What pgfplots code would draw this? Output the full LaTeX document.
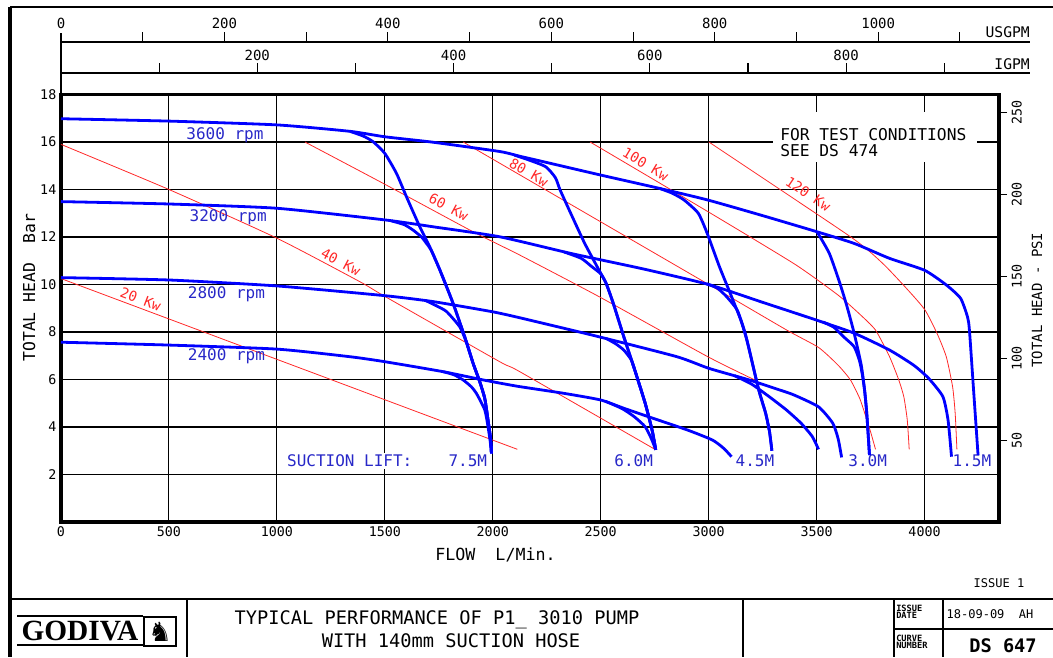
\documentclass[border=0pt]{standalone}
\usepackage{fontspec}
\setmainfont{DejaVu Sans Mono}
\newfontfamily\godfont{Liberation Serif}
\newfontfamily\symfont{DejaVu Sans}
\usepackage{pgfplots}
\pgfplotsset{compat=1.18}
\definecolor{curveblue}{RGB}{0,0,255}
\definecolor{txtblue}{RGB}{40,40,200}
\definecolor{kwred}{RGB}{255,40,40}
\newcommand{\fs}[1]{\fontsize{#1}{#1}\selectfont}

\begin{document}
\begin{tikzpicture}
\path[use as bounding box] (0,0) rectangle (789.75pt,-492.75pt);

% main axis: flow L/min vs head bar
\begin{axis}[
  at={(45.75pt,-391.5pt)}, anchor=south west,
  scale only axis, width=703.5pt, height=320.625pt,
  xmin=0, xmax=4345, ymin=0, ymax=18,
  xtick={0,500,...,4000}, ytick={2,4,...,18},
  xticklabels={0,500,1000,1500,2000,2500,3000,3500,4000},
  yticklabels={2,4,6,8,10,12,14,16,18},
  major tick length=0pt,
  grid=major, major grid style={black, line width=0.8pt},
  axis line style={line width=2.6pt},
  tick label style={font=\fs{10pt}},
  clip=false,
  bl/.style={curveblue, line width=2.1pt, smooth, tension=0.35, line join=round},
  rd/.style={kwred, line width=0.6pt, smooth, tension=0.35},
]
% power lines
\addplot[rd] coordinates {(0,10.25) (2114,3.06)};
\addplot[rd] coordinates {(0,15.9) (500,14.0) (1000,11.95) (1384,10.12) (1500,9.5) (2032,6.75) (2125,6.33) (2755,3.04)};
\addplot[rd] coordinates {(1130,16) (1492,14.26) (1909,12.22) (2125,11.24) (2492,9.49) (2996,6.96) (3214,5.98)};
\addplot[rd] coordinates {(1863,16) (3000,10.0) (3362,8.08) (3509,7.35) (3600,6.6) (3657,5.98) (3700,5.2) (3723,4.58) (3750,3.8) (3773,3.06)};
\addplot[rd] coordinates {(2451,16) (3000,13.05) (3400,10.85) (3600,9.55) (3700,8.75) (3773,8.08) (3838,6.96) (3880,6.0) (3904,5.28) (3920,4.3) (3929,3.06)};
\addplot[rd] coordinates {(3001,16) (3657,12.01) (3806,10.89) (3920,9.8) (4002,8.93) (4060,7.9) (4101,6.95) (4130,5.7) (4142,4.58) (4150,3.06)};

\begin{scope}[kwred, font=\fs{10.5pt}]
\node[rotate=-21] at (axis cs:369,9.39) {20 Kw};
\node[rotate=-28] at (axis cs:1296,10.95) {40 Kw};
\node[rotate=-28] at (axis cs:1796,13.28) {60 Kw};
\node[rotate=-30] at (axis cs:2167,14.72) {80 Kw};
\node[rotate=-31] at (axis cs:2708,15.07) {100 Kw};
\node[rotate=-34] at (axis cs:3461,13.81) {120 Kw};
\end{scope}

% note box
\fill[white] (axis cs:3298,15.16) rectangle (axis cs:4243,17.26);
\node[anchor=base west, font=\fs{12.2pt}] at (axis cs:3310,16.08) {FOR TEST CONDITIONS};
\node[anchor=base west, font=\fs{12.2pt}] at (axis cs:3310,15.37) {SEE DS 474};

% suction lift labels
\begin{scope}[txtblue, font=\fs{12pt}]
\node[anchor=base west, fill=white, inner sep=1.5pt] at (axis cs:1037,2.32) {SUCTION LIFT:};
\node[anchor=base west, fill=white, inner sep=1pt] at (axis cs:1788,2.32) {7.5M};
\node[anchor=base west, fill=white, inner sep=1pt] at (axis cs:2556,2.32) {6.0M};
\node[anchor=base west, fill=white, inner sep=1pt] at (axis cs:3118,2.32) {4.5M};
\node[anchor=base west, fill=white, inner sep=1pt] at (axis cs:3640,2.32) {3.0M};
\node[anchor=base west, fill=white, inner sep=1pt] at (axis cs:4123,2.32) {1.5M};
\node[anchor=base west] at (axis cs:559,16.11) {3600 rpm};
\node[anchor=base west] at (axis cs:574,12.64) {3200 rpm};
\node[anchor=base west] at (axis cs:566,9.39) {2800 rpm};
\node[anchor=base west] at (axis cs:566,6.79) {2400 rpm};
\end{scope}

% 3600 rpm
\addplot[bl] coordinates {(0,16.98) (500,16.88) (1000,16.72) (1338,16.45) (1500,16.22) (1724,15.99) (2032,15.6) (2125,15.4) (2197,15.25) (2499,14.61) (2771,14.05) (2995,13.56) (3250,12.9) (3502,12.22) (3674,11.73) (3838,11.1) (4000,10.6) (4101,9.98) (4167,9.42) (4199,8.64) (4208,8.08) (4228,5.45) (4248,2.82)};
\addplot[bl] coordinates {(1338,16.45) (1400,16.25) (1446,16.01) (1500,15.52) (1554,14.68) (1600,13.7) (1662,12.43) (1708,11.59) (1755,10.61) (1816,9.21) (1870,7.8) (1909,6.68) (1940,5.9) (1963,5.2) (1978,4.29) (1990,3.5) (1994,2.89)};
\addplot[bl] coordinates {(2100,15.45) (2165,15.25) (2245,14.96) (2290,14.5) (2312,13.98) (2361,13.0) (2426,11.73) (2492,10.61) (2525,10.05) (2558,9.21) (2607,7.8) (2656,6.45) (2706,5.0) (2738,3.87) (2755,3.04)};
\addplot[bl] coordinates {(2771,14.05) (2830,13.85) (2886,13.56) (2952,13.0) (2993,12.16) (3050,10.75) (3100,9.63) (3149,8.5) (3181,7.52) (3231,5.6) (3264,4.58) (3282,3.8) (3293,3.0)};
\addplot[bl] coordinates {(3502,12.22) (3559,11.31) (3608,10.05) (3641,9.07) (3674,7.95) (3707,6.6) (3723,5.5) (3733,4.5) (3745,2.82)};
% 3200 rpm
\addplot[bl] coordinates {(0,13.49) (500,13.39) (1000,13.21) (1500,12.72) (1724,12.43) (2032,12.01) (2361,11.31) (2700,10.65) (3000,10.0) (3250,9.25) (3500,8.5) (3674,7.95) (3838,7.24) (3950,6.6) (4019,6.05) (4085,5.28) (4109,4.29) (4125,2.75)};
\addplot[bl] coordinates {(1530,12.68) (1590,12.52) (1631,12.29) (1670,12.0) (1693,11.73) (1715,11.44) (1755,10.61) (1816,9.21) (1870,7.8) (1909,6.68) (1940,5.9) (1963,5.2) (1978,4.29) (1990,3.5) (1994,2.89)};
\addplot[bl] coordinates {(2330,11.37) (2410,11.1) (2459,10.75) (2500,10.45) (2525,10.05) (2558,9.21) (2607,7.8) (2656,6.45) (2706,5.0) (2738,3.87) (2755,3.04)};
\addplot[bl] coordinates {(2990,10.03) (3040,9.85) (3083,9.49) (3132,8.93) (3165,8.08) (3181,7.52) (3231,5.6) (3264,4.58) (3282,3.8) (3293,3.0)};
\addplot[bl] coordinates {(3530,8.42) (3580,8.2) (3625,7.8) (3674,7.38) (3699,6.78) (3712,6.2) (3723,5.5) (3733,4.5) (3745,2.82)};
% 2800 rpm
\addplot[bl] coordinates {(0,10.29) (500,10.19) (1000,9.94) (1500,9.53) (1724,9.28) (1994,8.86) (2125,8.6) (2492,7.8) (2853,6.96) (3001,6.47) (3181,6.0) (3329,5.56) (3395,5.35) (3509,4.85) (3575,4.16) (3600,3.5) (3616,2.72)};
\addplot[bl] coordinates {(1690,9.32) (1740,9.1) (1786,8.86) (1847,8.22) (1878,7.57) (1909,6.68) (1940,5.9) (1963,5.2) (1978,4.29) (1990,3.5) (1994,2.89)};
\addplot[bl] coordinates {(2525,7.73) (2570,7.5) (2607,7.24) (2640,6.85) (2656,6.45) (2706,5.0) (2738,3.87) (2755,3.04)};
\addplot[bl] coordinates {(3120,6.16) (3200,5.8) (3280,5.28) (3360,4.72) (3428,4.16) (3480,3.6) (3509,3.06)};
% 2400 rpm
\addplot[bl] coordinates {(0,7.57) (500,7.45) (1000,7.28) (1338,6.96) (1500,6.75) (1770,6.33) (1940,6.01) (2032,5.85) (2125,5.7) (2328,5.42) (2499,5.14) (2607,4.79) (2722,4.43) (2903,3.87) (3018,3.45) (3070,3.1) (3106,2.75)};
\addplot[bl] coordinates {(1770,6.33) (1820,6.2) (1863,5.98) (1900,5.7) (1924,5.42) (1963,4.72) (1978,4.01) (1988,3.4) (1994,2.89)};
\addplot[bl] coordinates {(2523,5.08) (2600,4.77) (2656,4.43) (2706,4.01) (2735,3.5) (2755,3.04)};
\end{axis}

% PSI scale on the right
\begin{axis}[
  at={(45.75pt,-391.5pt)}, anchor=south west,
  scale only axis, width=703.5pt, height=320.625pt,
  xmin=0, xmax=1, ymin=0, ymax=261.07,
  hide x axis, axis y line*=right,
  ytick={50,100,150,200,250},
  yticklabels={50,100,150,200,250},
  tick align=outside, major tick length=6pt,
  tick style={black, line width=0.8pt},
  axis line style={line width=2.6pt},
  yticklabel style={rotate=90, anchor=north, font=\fs{10pt}},
]
\end{axis}

\begin{scope}[x=0.75pt, y=-0.75pt]
% frame
\draw[line width=1.2pt] (10,7) -- (1053,7);
\draw[line width=3.2pt] (10,7) -- (10,657);
% top flow scales
\draw[line width=0.8pt] (61,42) -- (1030,42);
\draw[line width=0.8pt] (61,73) -- (1030,73);
\draw[line width=0.8pt] (61,33) -- (61,95);
\foreach \n in {1,...,11} \draw[line width=0.8pt] ({61+\n*81.72},42) -- ({61+\n*81.72},32);
\foreach \n in {1,...,9} \draw[line width=0.8pt] ({61+\n*98.14},73) -- ({61+\n*98.14},63);
\foreach \n/\t in {0/0,2/200,4/400,6/600,8/800,10/1000}
  \node[anchor=base, font=\fs{10.5pt}, inner sep=0pt] at ({61+\n*81.72},28) {\t};
\foreach \n/\t in {2/200,4/400,6/600,8/800}
  \node[anchor=base, font=\fs{10.5pt}, inner sep=0pt] at ({61+\n*98.14},60) {\t};
\node[anchor=base east, font=\fs{11pt}, inner sep=0pt] at (1030,37) {USGPM};
\node[anchor=base east, font=\fs{11pt}, inner sep=0pt] at (1030,69) {IGPM};
% axis titles
\node[anchor=base, rotate=90, font=\fs{12.3pt}, inner sep=0pt] at (35,287.5) {TOTAL HEAD~~Bar};
\node[anchor=base, rotate=90, font=\fs{10.5pt}, inner sep=0pt] at (1042,300) {TOTAL HEAD - PSI};
\node[anchor=base west, font=\fs{12.5pt}, inner sep=0pt] at (435,560) {FLOW~~L/Min.};
% title block
\node[font=\fs{9pt}] at (999,583) {ISSUE 1};
\draw[line width=2.2pt] (10,599) -- (1053,599);
\draw[line width=1.6pt] (187,599) -- (187,657);
\draw[line width=1.6pt] (743,599) -- (743,657);
\draw[line width=1.6pt] (894,599) -- (894,657);
\draw[line width=1.2pt] (943,599) -- (943,657);
\draw[line width=1.6pt] (894,629) -- (1053,629);
\draw[line width=1.5pt] (17,616) -- (143,616);
\draw[line width=1.5pt] (17,645) -- (143,645);
\node[font=\godfont\bfseries\fs{22pt}, inner sep=0pt] at (80,631) {GODIVA};
\draw[line width=0.8pt] (144,617) rectangle (176,646);
\node[font=\symfont\fs{20pt}, inner sep=0pt] at (160,631.5) {♞};
\node[font=\fs{14pt}] at (437,620) {TYPICAL PERFORMANCE OF P1\_ 3010 PUMP};
\node[font=\fs{14pt}] at (451,641) {WITH 140mm SUCTION HOSE};
\node[font=\fs{6.5pt}\bfseries, align=left, inner sep=0pt, anchor=west] at (896,612) {ISSUE\\[-1pt]DATE};
\node[font=\fs{6.5pt}\bfseries, align=left, inner sep=0pt, anchor=west] at (896,642) {CURVE\\[-1pt]NUMBER};
\node[font=\fs{9pt}] at (990,614.5) {18-09-09~~AH};
\node[font=\fs{14pt}\bfseries] at (1003,646) {DS 647};
\end{scope}
\end{tikzpicture}
\end{document}
